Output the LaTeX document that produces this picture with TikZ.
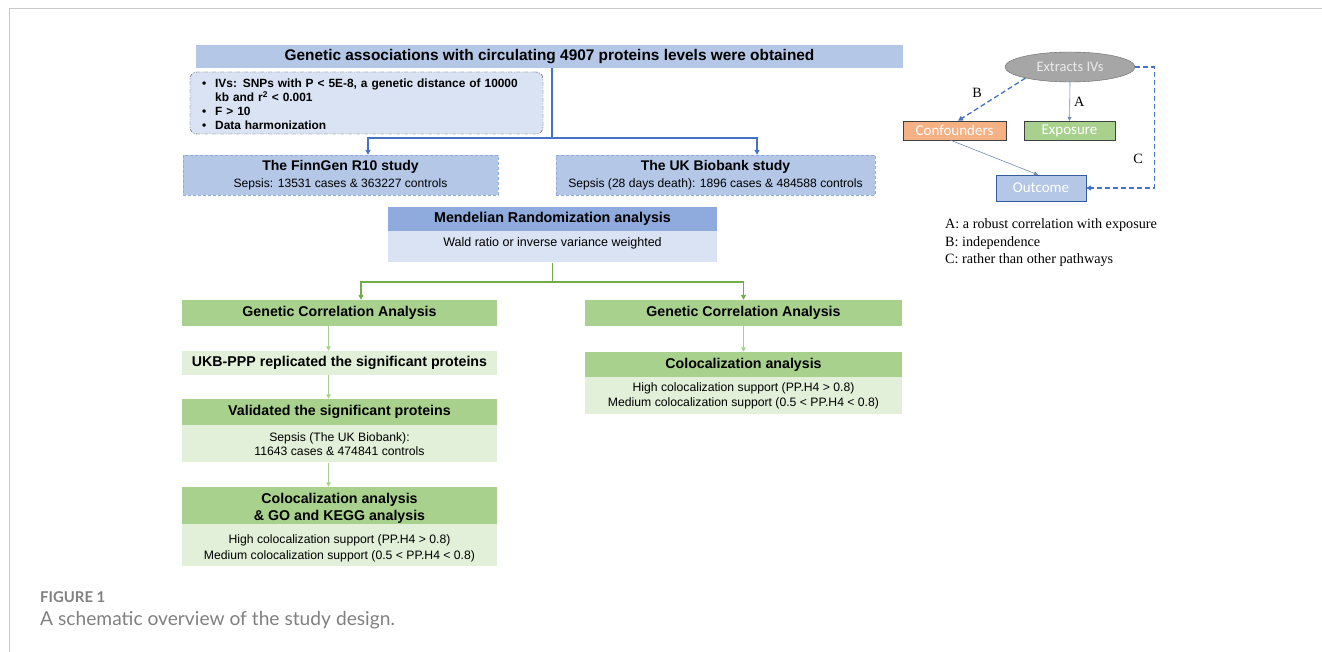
\documentclass[tikz,border=0pt]{standalone}
\usepackage{fontspec}
\setmainfont{Liberation Sans}
\newfontfamily\legserif{Liberation Serif}
\newfontfamily\calib{Carlito}
\newfontfamily\capfont{Lato}
\usetikzlibrary{positioning,arrows.meta,shapes.geometric}

\definecolor{barblue}{HTML}{B4C7E7}
\definecolor{paleblue}{HTML}{DAE3F3}
\definecolor{midblue}{HTML}{8FAADC}
\definecolor{lineblue}{HTML}{4472C4}
\definecolor{midgreen}{HTML}{A9D18E}
\definecolor{palegreen}{HTML}{E2F0D9}
\definecolor{linegreen}{HTML}{70AD47}
\definecolor{peach}{HTML}{F4B183}
\definecolor{framegray}{HTML}{C8C8C8}
\definecolor{capgray}{HTML}{808080}

\begin{document}
\begin{tikzpicture}[x=1pt, y=-1pt,
  bar/.style={fill=barblue, inner sep=0pt, font=\fontsize{15.4}{17}\selectfont\bfseries},
  study/.style={draw=midblue, fill=barblue, dash pattern=on 3pt off 2pt, inner sep=0pt, align=center, minimum height=40pt, font=\fontsize{12.1}{16.5}\selectfont},
  hdr/.style={inner sep=0pt, align=center, font=\fontsize{14.2}{17}\selectfont\bfseries},
  txt/.style={inner sep=0pt, align=center, font=\fontsize{12.2}{15.5}\selectfont},
  bluearr/.style={draw=lineblue, line width=1.2pt, -{Triangle[length=5pt,width=5pt]}},
  greenarr/.style={draw=linegreen, line width=1.2pt, -{Triangle[length=5pt,width=5pt]}},
  palearr/.style={draw=midgreen, line width=1pt, -{Triangle[length=4.5pt,width=4.5pt]}},
  ivbox/.style={inner sep=0pt, minimum width=#1, minimum height=19pt, draw=black!75, text=white, font=\calib\fontsize{15}{17}\selectfont},
  dasharr/.style={draw=lineblue, line width=1.3pt, dash pattern=on 5pt off 3pt, -{Triangle[length=5pt,width=5pt]}},
  thinarr/.style={draw=midblue!80!black, line width=0.6pt, -{Triangle[length=4pt,width=4pt]}},
  leg/.style={inner sep=0pt, font=\legserif\fontsize{14.2}{17.5}\selectfont}
]
\useasboundingbox (0,0) rectangle (1322,652);
\draw[framegray, line width=1pt] (1322,9) -- (9,9) -- (9,652);

% top of the flow
\node[bar, minimum width=707pt, minimum height=23pt] (proteins) at (549.5,56.5) {Genetic associations with circulating 4907 proteins levels were obtained};
\node[draw=black!70, fill=paleblue, rounded corners=7pt, dash pattern=on 4pt off 1.5pt on 1pt off 1.5pt, minimum width=353pt, minimum height=62pt, inner xsep=12pt, inner ysep=0pt, text width=329pt, align=left, font=\fontsize{11.9}{13.7}\selectfont\bfseries] (ivs) at (366.5,103)
  {\begin{tabular}{@{}l@{\hspace{9pt}}l@{}}
   \rule{0pt}{15pt}\textbullet & IVs: SNPs with P < 5E-8, a genetic distance of 10000\\
    & kb and r\textsuperscript{2} < 0.001\\
   \textbullet & F > 10\\
   \textbullet & Data harmonization
   \end{tabular}};

\node[study, minimum width=315pt] (finngen) at (340.5,175) {{\fontsize{14}{16}\selectfont\bfseries The FinnGen R10 study}\\Sepsis: 13531 cases \& 363227 controls};
\node[study, minimum width=319pt] (ukbb) at (715.5,175) {{\fontsize{14}{16}\selectfont\bfseries The UK Biobank study}\\Sepsis (28 days death): 1896 cases \& 484588 controls};

\coordinate (split) at (552,138);
\draw[lineblue, line width=1.2pt] (proteins.south -| split) -- (split);
\draw[bluearr] (split) -| ([xshift=27.5pt]finngen.north);
\draw[bluearr] (split) -| ([xshift=41.5pt]ukbb.north);

% MR
\node[hdr, fill=midblue, minimum width=329pt, minimum height=24pt, font=\fontsize{14.3}{16}\selectfont\bfseries] (mr) at (552.5,219) {Mendelian Randomization analysis};
\node[txt, fill=paleblue, minimum width=329pt, minimum height=31pt, below=0pt of mr, font=\fontsize{12.5}{15}\selectfont] (mrbody) {Wald ratio or inverse variance weighted\rule[-9pt]{0pt}{1pt}};

% left branch
\node[hdr, fill=midgreen, minimum width=315pt, minimum height=26pt] (gcaL) at (339.5,313) {Genetic Correlation Analysis};
\node[hdr, fill=palegreen, minimum width=315pt, minimum height=24pt] (replic) at (339.5,363) {UKB-PPP replicated the significant proteins};
\node[hdr, fill=midgreen, minimum width=315pt, minimum height=26pt] (valid) at (339.5,412) {Validated the significant proteins};
\node[txt, fill=palegreen, minimum width=315pt, minimum height=37pt, below=0pt of valid, font=\fontsize{12.2}{14.5}\selectfont] (validbody) {Sepsis (The UK Biobank):\\11643 cases \& 474841 controls};
\node[hdr, fill=midgreen, minimum width=315pt, minimum height=37pt] (colocL) at (339.5,505.5) {\rule{0pt}{16.5pt}Colocalization analysis\\\& GO and KEGG analysis};
\node[txt, fill=palegreen, minimum width=315pt, minimum height=42pt, below=0pt of colocL, font=\fontsize{12.2}{16}\selectfont] (colocLbody) {\rule{0pt}{14.8pt}High colocalization support (PP.H4 > 0.8)\\Medium colocalization support (0.5 < PP.H4 < 0.8)};

% right branch
\node[hdr, fill=midgreen, minimum width=317pt, minimum height=26pt] (gcaR) at (743.5,313) {Genetic Correlation Analysis};
\node[hdr, fill=midgreen, minimum width=317pt, minimum height=25pt] (colocR) at (743.5,364.5) {Colocalization analysis};
\node[txt, fill=palegreen, minimum width=317pt, minimum height=37pt, below=0pt of colocR, font=\fontsize{12.2}{15}\selectfont] (colocRbody) {High colocalization support (PP.H4 > 0.8)\\Medium colocalization support (0.5 < PP.H4 < 0.8)};

\coordinate (fork) at (552.5,282);
\draw[linegreen, line width=1.2pt] (mrbody.south) -- (fork);
\draw[greenarr] (fork) -| ([xshift=21.5pt]gcaL.north);
\draw[greenarr] (fork) -| (gcaR.north);

\draw[palearr] ([xshift=-11pt]gcaL.south) -- ([xshift=-11pt]replic.north);
\draw[palearr] ([xshift=-11pt]replic.south) -- ([xshift=-11pt]valid.north);
\draw[palearr] ([xshift=-11pt]validbody.south) -- ([xshift=-11pt]colocL.north);
\draw[palearr] (gcaR.south) -- (colocR.north);

% IV assumptions
\node[ellipse, draw=black!60, fill=black!35, minimum width=130pt, minimum height=30pt, inner sep=0pt, text=white!92!black, font=\calib\fontsize{14.5}{16}\selectfont] (extract) at (1070,67) {Extracts IVs};
\node[ivbox=103pt, fill=peach] (conf) at (954.5,130.5) {Confounders};
\node[ivbox=91pt, fill=midgreen] (expo) at (1069.5,130.5) {Exposure};
\node[ivbox=90pt, fill=barblue, minimum height=26pt, draw=lineblue!80!black] (outc) at (1041,188) {Outcome};

\draw[thinarr] (extract.south) -- (expo.north) node[midway, right=4pt, leg] (labA) {A};
\draw[dasharr] (extract.194) -- ([xshift=3.5pt]conf.north);
\node[leg] (labB) at (977,93) {B};
\draw[dasharr] (extract.east) -- ++(19,0) |- (outc.east);
\node[leg] (labC) at (1138,159) {C};
\draw[thinarr] ([xshift=-4pt]conf.south) -- ([xshift=-3pt]outc.north);

\node[leg, anchor=north west, align=left] (legend) at (945,218.5) {A: a robust correlation with exposure\\B: independence\\C: rather than other pathways};

% caption
\node[anchor=base west, inner sep=0pt, text=capgray, font=\capfont\bfseries\fontsize{14.9}{17}\selectfont] (figno) at (40,602) {FIGURE 1};
\node[anchor=base west, inner sep=0pt, text=capgray, font=\capfont\fontsize{19.2}{22}\selectfont] (figcap) at (40,625.5) {A schematic overview of the study design.};
\end{tikzpicture}
\end{document}
